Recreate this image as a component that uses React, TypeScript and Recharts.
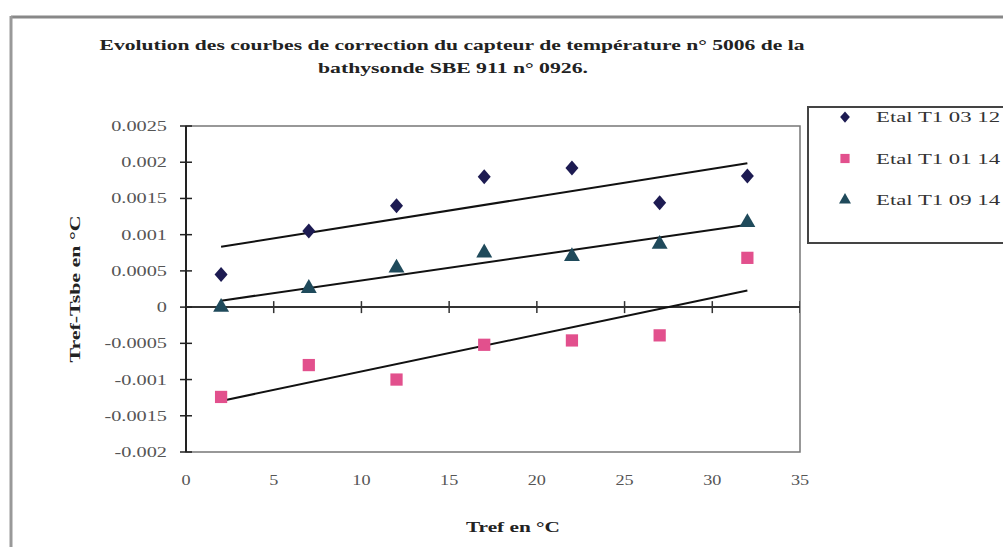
import React from "react";
import {
  ComposedChart,
  XAxis,
  YAxis,
  Scatter,
  Line,
  ReferenceLine,
  ReferenceArea,
  Symbols,
} from "recharts";

// Tref (°C) of each calibration point
const TEMPS = [2, 7, 12, 17, 22, 27, 32];
// Tref - Tsbe (°C), one array per calibration
const ETAL_03_12 = [0.00045, 0.00105, 0.0014, 0.0018, 0.00192, 0.00144, 0.00181];
const ETAL_01_14 = [-0.00124, -0.0008, -0.001, -0.00052, -0.00046, -0.00039, 0.00068];
const ETAL_09_14 = [0, 0.00026, 0.00054, 0.00075, 0.0007, 0.00087, 0.00117];

const SERIES_NAMES = ["Etal T1 03 12", "Etal T1 01 14", "Etal T1 09 14"];
const X_TICKS = [0, 5, 10, 15, 20, 25, 30, 35];
const Y_TICKS = [-0.002, -0.0015, -0.001, -0.0005, 0, 0.0005, 0.001, 0.0015, 0.002, 0.0025];

const TITLE_1 = "Evolution des courbes de correction du capteur de température n° 5006 de la";
const TITLE_2 = "bathysonde SBE 911 n° 0926.";

const FONT = "'Liberation Serif', 'Times New Roman', serif";
const COLORS = ["#1d1b52", "#e2508d", "#1f4a5b"];
const SHAPES = ["diamond", "square", "triangle"] as const;
const SIZES = [75, 150, 110];

const toPoints = (ys: number[]) => TEMPS.map((x, i) => ({ x, y: ys[i] }));

// least squares trend line, from first to last x (like the spreadsheet trendline)
function trend(ys: number[]) {
  const n = TEMPS.length;
  const mx = TEMPS.reduce((a, b) => a + b, 0) / n;
  const my = ys.reduce((a, b) => a + b, 0) / n;
  let sxy = 0;
  let sxx = 0;
  TEMPS.forEach((x, i) => {
    sxy += (x - mx) * (ys[i] - my);
    sxx += (x - mx) * (x - mx);
  });
  const slope = sxy / sxx;
  const x0 = TEMPS[0];
  const x1 = TEMPS[n - 1];
  return [
    { x: x0, y: my + slope * (x0 - mx) },
    { x: x1, y: my + slope * (x1 - mx) },
  ];
}

const ALL = [ETAL_03_12, ETAL_01_14, ETAL_09_14];
const ZERO_TICKS = X_TICKS.filter((v) => v > 0).map((x) => ({ x, y: 0 }));

function Mark({ i, cx, cy, k = 1 }: { i: number; cx: number; cy: number; k?: number }) {
  if (SHAPES[i] === "diamond") {
    const w = 6.5 * k;
    const h = 7.5 * k;
    return <path d={`M${cx},${cy - h}L${cx + w},${cy}L${cx},${cy + h}L${cx - w},${cy}Z`} fill={COLORS[i]} />;
  }
  return <Symbols cx={cx} cy={cy} type={SHAPES[i]} size={SIZES[i] * k * k} fill={COLORS[i]} />;
}

const marker = (i: number) => (p: any) => <Mark i={i} cx={p.cx} cy={p.cy} />;

const YTick = (p: any) => {
  const { x, y, payload } = p;
  return (
    <g>
      <line x1={x - 6} x2={x + 6} y1={y} y2={y} stroke="#222" strokeWidth={1.5} />
      <text
        transform={`translate(${x - 19},${y + 5}) scale(1.45,1)`}
        textAnchor="end"
        fontSize={14}
        fontFamily={FONT}
        fill="#555"
      >
        {String(payload.value)}
      </text>
    </g>
  );
};

const XTick = (p: any) => {
  const { x, y, payload } = p;
  return (
    <text
      transform={`translate(${x},${y + 33}) scale(1.3,1)`}
      textAnchor="middle"
      fontSize={14}
      fontFamily={FONT}
      fill="#555"
    >
      {String(payload.value)}
    </text>
  );
};

export default function App() {
  return (
    <div style={{ position: "absolute", left: 0, top: 0, width: 1003, height: 547, background: "#fff", overflow: "hidden" }}>
      <ComposedChart width={1003} height={547} margin={{ top: 126, right: 203, bottom: 0, left: 0 }}>
        <XAxis
          type="number"
          dataKey="x"
          domain={[0, 35]}
          ticks={X_TICKS}
          axisLine={false}
          tickLine={false}
          tickSize={0}
          tickMargin={0}
          height={95}
          tick={<XTick />}
          allowDataOverflow
        />
        <YAxis
          type="number"
          dataKey="y"
          domain={[-0.002, 0.0025]}
          ticks={Y_TICKS}
          width={186}
          axisLine={false}
          tickLine={false}
          tickSize={0}
          tickMargin={0}
          tick={<YTick />}
          allowDataOverflow
        />
        <ReferenceArea x1={0} x2={35} y1={-0.002} y2={0.0025} fill="none" stroke="#777" strokeWidth={1.5} />
        <ReferenceLine x={0} stroke="#222" strokeWidth={2} />
        <ReferenceLine y={0} stroke="#333" strokeWidth={2} />
        <Scatter
          data={ZERO_TICKS}
          isAnimationActive={false}
          shape={(p: any) => (
            <line x1={p.cx} x2={p.cx} y1={p.cy - 6} y2={p.cy + 6} stroke="#333" strokeWidth={1.5} />
          )}
        />
        {ALL.map((ys, i) => (
          <Line
            key={"t" + i}
            data={trend(ys)}
            dataKey="y"
            type="linear"
            stroke="#111"
            strokeWidth={2}
            dot={false}
            activeDot={false}
            isAnimationActive={false}
          />
        ))}
        {ALL.map((ys, i) => (
          <Scatter
            key={"s" + i}
            name={SERIES_NAMES[i]}
            data={toPoints(ys)}
            shape={marker(i)}
            isAnimationActive={false}
          />
        ))}
      </ComposedChart>
      <svg width={1003} height={547} style={{ position: "absolute", left: 0, top: 0, pointerEvents: "none" }}>
        {/* outer frame */}
        <line x1={11} x2={1003} y1={17} y2={17} stroke="#888" strokeWidth={3} />
        <line x1={11} x2={11} y1={16} y2={547} stroke="#999" strokeWidth={3} />
        {/* title */}
        <text x={452} y={50} textAnchor="middle" textLength={705} lengthAdjust="spacingAndGlyphs"
          fontFamily={FONT} fontWeight="bold" fontSize={15} fill="#222">{TITLE_1}</text>
        <text x={453} y={73} textAnchor="middle" textLength={270} lengthAdjust="spacingAndGlyphs"
          fontFamily={FONT} fontWeight="bold" fontSize={15} fill="#222">{TITLE_2}</text>
        {/* axis titles */}
        <text transform="translate(80,289) rotate(-90)" textAnchor="middle" textLength={147} lengthAdjust="spacingAndGlyphs"
          fontFamily={FONT} fontWeight="bold" fontSize={14} fill="#222">Tref-Tsbe en °C</text>
        <text x={513} y={532} textAnchor="middle" textLength={94} lengthAdjust="spacingAndGlyphs"
          fontFamily={FONT} fontWeight="bold" fontSize={14} fill="#222">Tref en °C</text>
        {/* legend */}
        <rect x={808} y={107} width={230} height={136} fill="#fff" stroke="#444" strokeWidth={2} />
        {SERIES_NAMES.map((name, i) => {
          const cy = 117 + i * 41.5;
          return (
            <g key={name}>
              <Mark i={i} cx={845} cy={cy} k={0.75} />
              <text x={876} y={cy + 5} textLength={124} lengthAdjust="spacingAndGlyphs"
                fontFamily={FONT} fontSize={14} fill="#333">{name}</text>
            </g>
          );
        })}
      </svg>
    </div>
  );
}
